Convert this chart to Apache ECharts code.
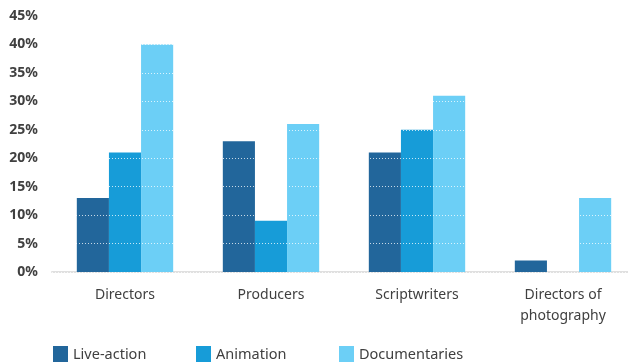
<!DOCTYPE html>
<html>
<head>
<meta charset="utf-8">
<script src="https://cdn.jsdelivr.net/npm/echarts@6/dist/echarts.min.js"></script>
<style>
  html, body { margin: 0; padding: 0; background: #fff; }
  #chart { width: 628px; height: 362px; }
</style>
</head>
<body>
<div id="chart"></div>
<script>
// Share of each profession by production type (%)
const categories = ['Directors', 'Producers', 'Scriptwriters', 'Directors of\nphotography'];
const liveAction = [13, 23, 21, 2];
const animation = [21, 9, 25, 0];
const documentaries = [40, 26, 31, 13];
const seriesNames = ['Live-action', 'Animation', 'Documentaries'];
const colors = ['#22669b', '#179cd8', '#6ccff6'];

const FONT = '"Noto Sans", "Open Sans", sans-serif';
const chart = echarts.init(document.getElementById('chart'), null, { renderer: 'canvas' });

const mk = (name, data, color) => ({
  name, type: 'bar', data, barGap: '0%', barCategoryGap: '34%',
  itemStyle: { color }, z: 2
});

// one legend block per series, spaced evenly along the bottom
const legendLefts = [53, 196, 339];
const legends = seriesNames.map((name, i) => ({
  left: legendLefts[i], top: 346, padding: 0, itemWidth: 15, itemHeight: 17,
  icon: 'rect',
  textStyle: { fontFamily: FONT, fontSize: 14.5, color: '#404040', padding: [0, 0, 0, 0] },
  data: [name]
}));

chart.setOption({
  animation: false,
  color: colors,
  grid: { left: 52, top: 16, width: 584, height: 256, outerBoundsMode: 'none', containLabel: false },
  legend: legends,
  xAxis: {
    type: 'category', data: categories,
    axisLine: { lineStyle: { color: '#e0e0e0', width: 2 } },
    axisTick: { show: false },
    axisLabel: { fontFamily: FONT, fontSize: 14, color: '#404040', margin: 13, lineHeight: 21 }
  },
  yAxis: {
    type: 'value', min: 0, max: 45, interval: 5, z: 3,
    axisLine: { show: false }, axisTick: { show: false },
    axisLabel: { formatter: '{value}%', fontFamily: FONT, fontSize: 14, fontWeight: 'bold', color: '#404040', margin: 14 },
    splitLine: { lineStyle: { color: 'rgba(255,255,255,0.75)', type: [1, 2], width: 1 } }
  },
  series: [
    mk(seriesNames[0], liveAction, colors[0]),
    mk(seriesNames[1], animation, colors[1]),
    mk(seriesNames[2], documentaries, colors[2])
  ]
});
</script>
</body>
</html>
